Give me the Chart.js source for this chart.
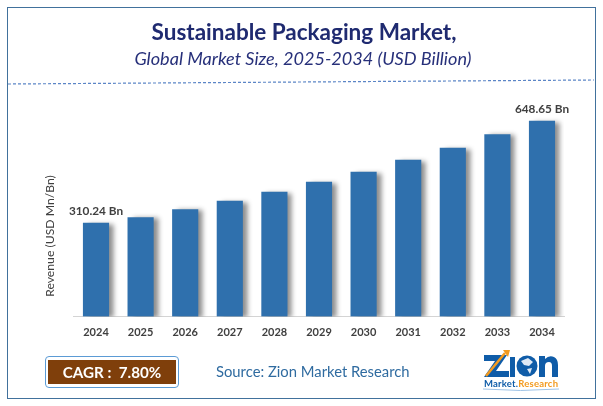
<!DOCTYPE html>
<html>
<head>
<meta charset="utf-8">
<script src="https://cdn.jsdelivr.net/npm/chart.js@4/dist/chart.umd.min.js"></script>
<style>
  html, body { margin: 0; padding: 0; background: #fff; }
  #wrap { position: relative; width: 603px; height: 406px; overflow: hidden; font-family: Lato, sans-serif; }
  #wrap canvas { position: absolute; left: 0; top: 0; }
  .txt { position: absolute; white-space: nowrap; }
  #frame { position: absolute; left: 7px; top: 7px; width: 587px; height: 390px; border: 1.5px solid #41719c; }
  #title { left: 0; width: 608px; top: 18px; text-align: center; font-size: 22.5px; font-weight: 700; color: #1f2a70; }
  #subtitle { left: 0; width: 606px; top: 47px; text-align: center; font-size: 18.1px; font-style: italic; color: #27307a; }
  #ylabel { left: 49px; top: 236px; font-size: 12.2px; color: #404040; transform: translate(-50%, -50%) rotate(-90deg); }
  #cagrOuter { position: absolute; left: 45px; top: 356px; width: 132px; height: 30px; border: 1.5px solid #5b9bd5; border-radius: 4px; }
  #cagr { left: 48px; top: 360px; width: 128px; height: 24px; line-height: 24px; background: #7f3f0b; color: #fff; font-weight: 700; font-size: 15.2px; text-align: center; }
  #source { left: 216px; top: 362px; font-size: 14.8px; color: #2f6ba0; }
  #deco { position: absolute; left: 0; top: 0; }
</style>
</head>
<body>
<div id="wrap">
  <canvas id="chart" width="603" height="406"></canvas>
  <div id="frame"></div>
  <svg id="deco" width="603" height="406">
    <line x1="8" y1="84" x2="594" y2="80" stroke="#5b85c6" stroke-width="1.2" stroke-dasharray="3 2"/>
    <!-- logo -->
    <path d="M484 355 H507 L496 371 H509 V377 H484 L495 361 H484 Z" fill="#0f5ca8"/>
    <path d="M486 376 L505 353" stroke="#f39a1e" stroke-width="2.5" fill="none"/>
    <path d="M503 350 L510 350 L508 357 Z" fill="#f39a1e"/>
    <rect x="510" y="357" width="5" height="20" fill="#0f5ca8"/>
    <circle cx="527" cy="366" r="10.5" fill="#0f5ca8"/>
    <path d="M521 361 L528 358 L533 362 L529 366 L524 365 Z M527 369 L532 368 L530 374 Z" fill="#dfe9f5"/>
    <path d="M539 377 V356 H545 V359 Q549 355 554 357 Q558 359 558 365 V377 H552 V366 Q552 362 549 362 Q545 362 545 366 V377 Z" fill="#0f5ca8"/>
    <text x="484" y="387" font-family="Lato" font-weight="700" font-size="9.5" textLength="74" fill="#0f5ca8">Market.<tspan fill="#f39a1e">Research</tspan></text>
    <path d="M483 389 Q520 392 559 389" stroke="#9fc3e6" stroke-width="1" fill="none"/>
  </svg>
  <div class="txt" id="title">Sustainable Packaging Market,</div>
  <div class="txt" id="subtitle">Global Market Size, 2025-2034 (USD Billion)</div>
  <div class="txt" id="ylabel">Revenue (USD Mn/Bn)</div>
  <div id="cagrOuter"></div>
  <div class="txt" id="cagr">CAGR :&nbsp; 7.80%</div>
  <div class="txt" id="source">Source: Zion Market Research</div>
</div>
<script>
'use strict';

const years   = ['2024', '2025', '2026', '2027', '2028', '2029', '2030', '2031', '2032', '2033', '2034'];
const revenue = [310.24, 328, 355, 383, 413, 446, 479, 519, 559, 604, 648.65];
const barTags = ['310.24 Bn', '', '', '', '', '', '', '', '', '', '648.65 Bn'];

// soft grey shadow on the right of each bar, then the two end labels
const barExtras = {
  id: 'barExtras',
  beforeDatasetsDraw(chart) {
    const c = chart.ctx;
    c.save();
    c.shadowColor = 'rgba(0,0,0,.45)';
    c.shadowBlur = 5;
    c.shadowOffsetX = 5;
    c.shadowOffsetY = 1;
  },
  afterDatasetsDraw(chart) {
    const c = chart.ctx;
    c.restore();
    c.save();
    c.font = '700 11.8px Lato';
    c.fillStyle = '#404040';
    c.textAlign = 'center';
    chart.getDatasetMeta(0).data.forEach((bar, i) => {
      if (barTags[i]) c.fillText(barTags[i], bar.x, bar.y - 8);
    });
    c.restore();
  },
};

new Chart(document.getElementById('chart').getContext('2d'), {
  type: 'bar',
  data: {
    labels: years,
    datasets: [{
      data: revenue,
      backgroundColor: '#2f70ad',
      barThickness: 25.5,
    }],
  },
  options: {
    responsive: false,
    animation: false,
    layout: { padding: { left: 40.5, right: 38.7, top: 99.5, bottom: 59.5 } },
    plugins: { legend: { display: false }, tooltip: { enabled: false } },
    scales: {
      x: {
        grid: { display: false, drawTicks: false },
        border: { color: '#d4d4d4', width: 1 },
        ticks: { color: '#404040', font: { family: 'Lato', size: 11, weight: '700' }, padding: 9, maxRotation: 0 },
        afterFit: s => { s.height = 30; },
      },
      y: {
        min: 0,
        max: 720,
        grid: { display: false },
        border: { display: false },
        ticks: { display: false },
        afterFit: s => { s.width = 33.2; },
      },
    },
  },
  plugins: [barExtras],
});
</script>
</body>
</html>
